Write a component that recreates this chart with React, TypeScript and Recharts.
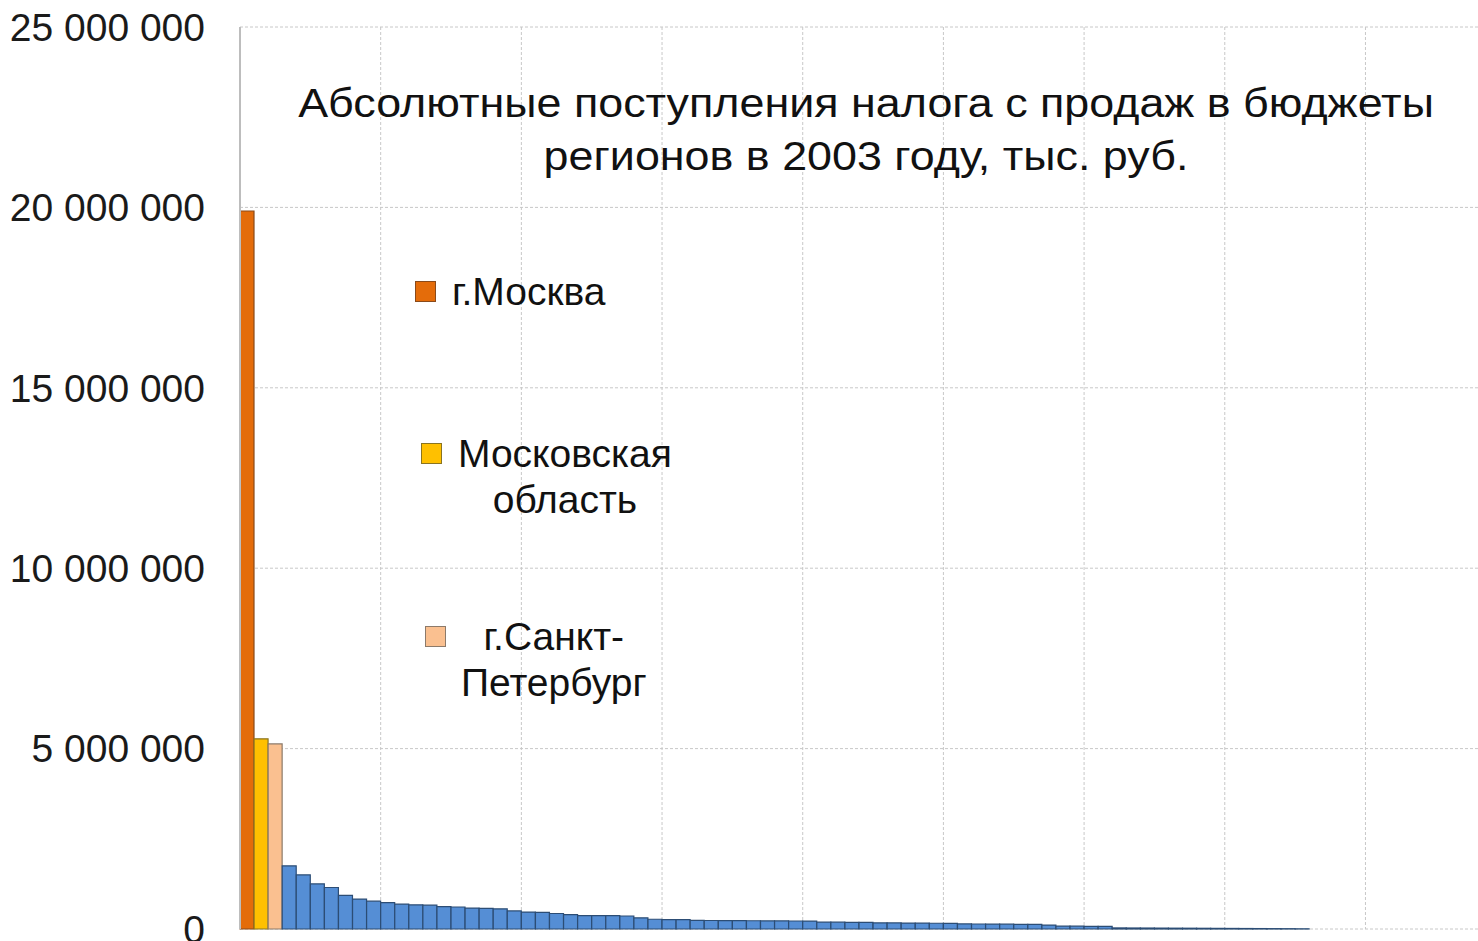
import React from "react";
import {
  BarChart,
  Bar,
  XAxis,
  YAxis,
  CartesianGrid,
  Legend,
} from "recharts";

// Поступления налога с продаж, тыс. руб., регионы по убыванию
const leaders = ["г.Москва", "Московская область", "г.Санкт-Петербург"];
const leaderKeys = ["moscow", "mosobl", "spb"];
const leaderLines = [["г.Москва"], ["Московская", "область"], ["г.Санкт-", "Петербург"]];

const revenues = [
  19900000, 5270000, 5130000,
  1750000, 1500000, 1250000, 1150000, 930000, 830000, 770000, 730000, 690000, 670000,
  660000, 620000, 610000, 580000, 570000, 560000, 500000, 470000, 460000, 430000,
  400000, 370000, 370000, 370000, 360000, 310000, 270000, 260000, 260000,
  240000, 235000, 230000, 230000, 228000, 225000, 225000, 222000, 220000,
  190000, 188000, 185000, 182000,
  170000, 168000, 165000, 163000, 160000, 158000,
  140000, 138000, 135000, 133000, 130000, 128000,
  110000,
  80000, 78000, 75000, 72000,
  30000, 28000, 27000, 25000, 23000, 22000, 20000, 18000, 16000, 14000, 12000, 10000, 8000, 5000,
];

const regionCount = 88;
const yTicks = [0, 5000000, 10000000, 15000000, 20000000, 25000000];
const xTicks = [0, 10, 20, 30, 40, 50, 60, 70, 80];

const colors: Record<string, string> = {
  moscow: "#e46c0a",
  mosobl: "#ffc000",
  spb: "#fac090",
  other: "#558ed5",
};
const strokes: Record<string, string> = {
  moscow: "#8a4a1a",
  mosobl: "#8a7420",
  spb: "#8c7a6a",
  other: "#2c4d75",
};

const data = revenues.map((v, i) => ({
  pos: i + 0.5,
  [i < 3 ? leaderKeys[i] : "other"]: v,
}));

const fmt = (v: number) => String(v).replace(/\B(?=(\d{3})+(?!\d))/g, " ");

const font = "'Liberation Sans', Arial, sans-serif";

// позиции подписей легенды как на исходной картинке
const legendPlaces = [
  { sx: 415, sy: 281, tx: 452, ty: 269 },
  { sx: 421, sy: 443, tx: 458, ty: 431 },
  { sx: 425, sy: 626, tx: 461, ty: 614 },
];

function LegendBox(props: any) {
  const items = (props.payload || []).filter((p: any) => leaderKeys.includes(p.dataKey));
  return (
    <div style={{ position: "relative", width: 0, height: 0 }}>
      {items.map((p: any) => {
        const idx = leaderKeys.indexOf(p.dataKey);
        const pl = legendPlaces[idx];
        return (
          <React.Fragment key={p.dataKey}>
            <div
              style={{
                position: "absolute",
                left: pl.sx,
                top: pl.sy,
                width: 19,
                height: 19,
                background: colors[p.dataKey],
                border: "1px solid " + strokes[p.dataKey],
              }}
            />
            <div
              style={{
                position: "absolute",
                left: pl.tx,
                top: pl.ty,
                fontFamily: font,
                fontSize: 39,
                lineHeight: "46px",
                color: "#111",
                textAlign: "center",
                whiteSpace: "nowrap",
              }}
            >
              {leaderLines[idx].map((l) => (
                <div key={l}>{l}</div>
              ))}
            </div>
          </React.Fragment>
        );
      })}
    </div>
  );
}

// вертикальная сетка по границам каждых 10 регионов
const verticalLines = ({ xAxis, offset }: any) => {
  if (xAxis && typeof xAxis.scale === "function") {
    return xTicks.map((t) => xAxis.scale(t));
  }
  return xTicks.map((t) => offset.left + (t / regionCount) * offset.width);
};

export default function App() {
  return (
    <div style={{ position: "relative", width: 1478, height: 941, overflow: "hidden", background: "#fff" }}>
      <style>{"body{margin:0}"}</style>
      <BarChart
        width={1478}
        height={941}
        data={data}
        margin={{ top: 27, right: 0, bottom: 12, left: 0 }}
      >
        <CartesianGrid
          stroke="#c8c8c8"
          strokeDasharray="3 2"
          verticalCoordinatesGenerator={verticalLines}
        />
        <XAxis
          type="number"
          dataKey="pos"
          domain={[0, regionCount]}
          ticks={xTicks}
          tick={false}
          tickLine={false}
          axisLine={false}
          height={0}
        />
        <YAxis
          type="number"
          domain={[0, 25000000]}
          ticks={yTicks}
          interval={0}
          width={240}
          tickSize={0}
          tickMargin={35}
          tickFormatter={fmt}
          tick={{ fontFamily: font, fontSize: 39, fill: "#1a1a1a" }}
          axisLine={{ stroke: "#bdbdbd", strokeWidth: 2 }}
          tickLine={false}
        />
        <Legend content={<LegendBox />} wrapperStyle={{ position: "absolute", left: 0, top: 0 }} />
        {leaderKeys.map((k, i) => (
          <Bar
            key={k}
            dataKey={k}
            name={leaders[i]}
            stackId="a"
            barSize={14}
            fill={colors[k]}
            stroke={strokes[k]}
            strokeWidth={1.2}
            isAnimationActive={false}
          />
        ))}
        <Bar
          dataKey="other"
          name="прочие регионы"
          stackId="a"
          barSize={14}
          fill={colors.other}
          stroke={strokes.other}
          strokeWidth={1.2}
          legendType="none"
          isAnimationActive={false}
        />
      </BarChart>
      <div
        style={{
          position: "absolute",
          left: 266,
          top: 77,
          width: 1200,
          textAlign: "center",
          fontFamily: font,
          fontSize: 41,
          lineHeight: "53px",
          color: "#111",
          transform: "scaleX(1.094)",
          transformOrigin: "600px 0",
          whiteSpace: "nowrap",
        }}
      >
        Абсолютные поступления налога с продаж в бюджеты
        <br />
        регионов в 2003 году, тыс. руб.
      </div>
    </div>
  );
}
